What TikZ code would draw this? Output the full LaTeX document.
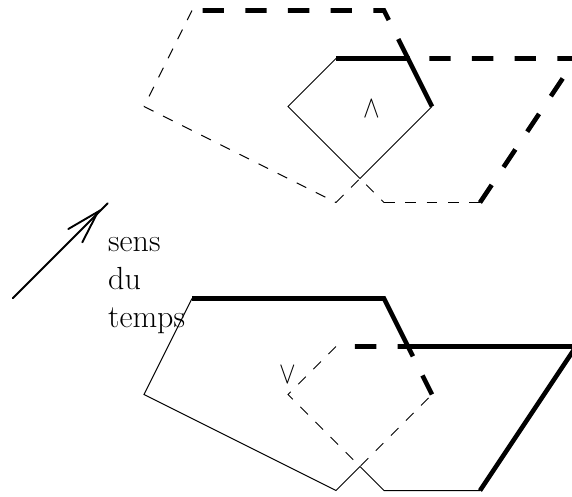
\documentclass[tikz,border=0pt]{standalone}
\tikzset{
  thinsolid/.style={line width=1pt,line join=miter},
  thinbroken/.style={line width=1pt,dash pattern=on 10.67pt off 10.67pt},
  thicksolid/.style={line width=4.6pt,line join=miter},
  thickbroken/.style={line width=4.6pt,dash pattern=on 21.33pt off 21.33pt},
  lbl/.style={inner sep=0pt,anchor=base west,font=\fontsize{32}{38}\selectfont},
  mathlbl/.style={inner sep=0pt,font=\fontsize{34}{40}\selectfont,yscale=-1.2},
  arrowline/.style={line width=1.9pt,line cap=round}
}
\begin{document}
\begin{tikzpicture}[x=1pt,y=-1pt]
\useasboundingbox (0,0) rectangle (572,496);
\clip (0,0) rectangle (572,496);
% top figure
\coordinate (ta) at (192,10.5);
\coordinate (tb) at (384,10.5);
\coordinate (tc) at (408,58.5);
\coordinate (td) at (432,106.5);
\coordinate (te) at (360,178.5);
\coordinate (tf) at (288,106.5);
\coordinate (tg) at (336,58.5);
\coordinate (th) at (576,58.5);
\coordinate (ti) at (480,202.5);
\coordinate (tj) at (384,202.5);
\coordinate (tk) at (336,202.5);
\coordinate (tl) at (144,106.5);
\draw[thinbroken] (ta) -- (tl);
\draw[thinbroken] (tl) -- (tk);
\draw[thinbroken] (tk) -- (te) -- (tj);
\draw[thinbroken] (tj) -- (ti);
\draw[thinsolid] (tg) -- (tf) -- (te) -- (td);
\draw[thicksolid] (tg) -- (tc) -- (td);
\draw[thickbroken,dash phase=32pt] (ta) -- (tb) -- (tc);
\draw[thickbroken,dash phase=21.33pt] (tc) -- (th) -- (ti);
% bottom figure
\coordinate (ba) at (192,298.5);
\coordinate (bb) at (384,298.5);
\coordinate (bc) at (408,346.5);
\coordinate (bd) at (432,394.5);
\coordinate (be) at (360,466.5);
\coordinate (bf) at (288,394.5);
\coordinate (bg) at (336,346.5);
\coordinate (bh) at (576,346.5);
\coordinate (bi) at (480,490.5);
\coordinate (bj) at (384,490.5);
\coordinate (bk) at (336,490.5);
\coordinate (bl) at (144,394.5);
\draw[thinsolid] (ba) -- (bl) -- (bk) -- (be) -- (bj) -- (bi);
\draw[thinbroken] (bg) -- (bf) -- (be) -- (bd);
\draw[thicksolid] (ba) -- (bb) -- (bc) -- (bh) -- (bi);
\draw[thickbroken,dash phase=23.67pt] (bg) -- (bc) -- (bd);
% arrow
\coordinate (as) at (12.7,298.3);
\coordinate (ae) at (107.7,203.3);
\coordinate (ah) at (98,211.7);
\coordinate (ab) at (68.3,229);
\coordinate (ac) at (82.3,242.3);
\draw[arrowline] (as) -- (ae);
\draw[arrowline] (ab) -- (ah) -- (ac);
% labels
\node[lbl] (sens) at (108,251) {sens};
\node[lbl] (du) at (108,289) {du};
\node[lbl] (temps) at (108,327) {temps};
\node[inner sep=0pt,font=\fontsize{34}{40}\selectfont,transform shape,yscale=1.25] (wedgelbl) at (372,109) {$\wedge$};
\node[inner sep=0pt,font=\fontsize{34}{40}\selectfont,transform shape,yscale=1.25] (veelbl) at (288,375) {$\vee$};
\end{tikzpicture}
\end{document}
